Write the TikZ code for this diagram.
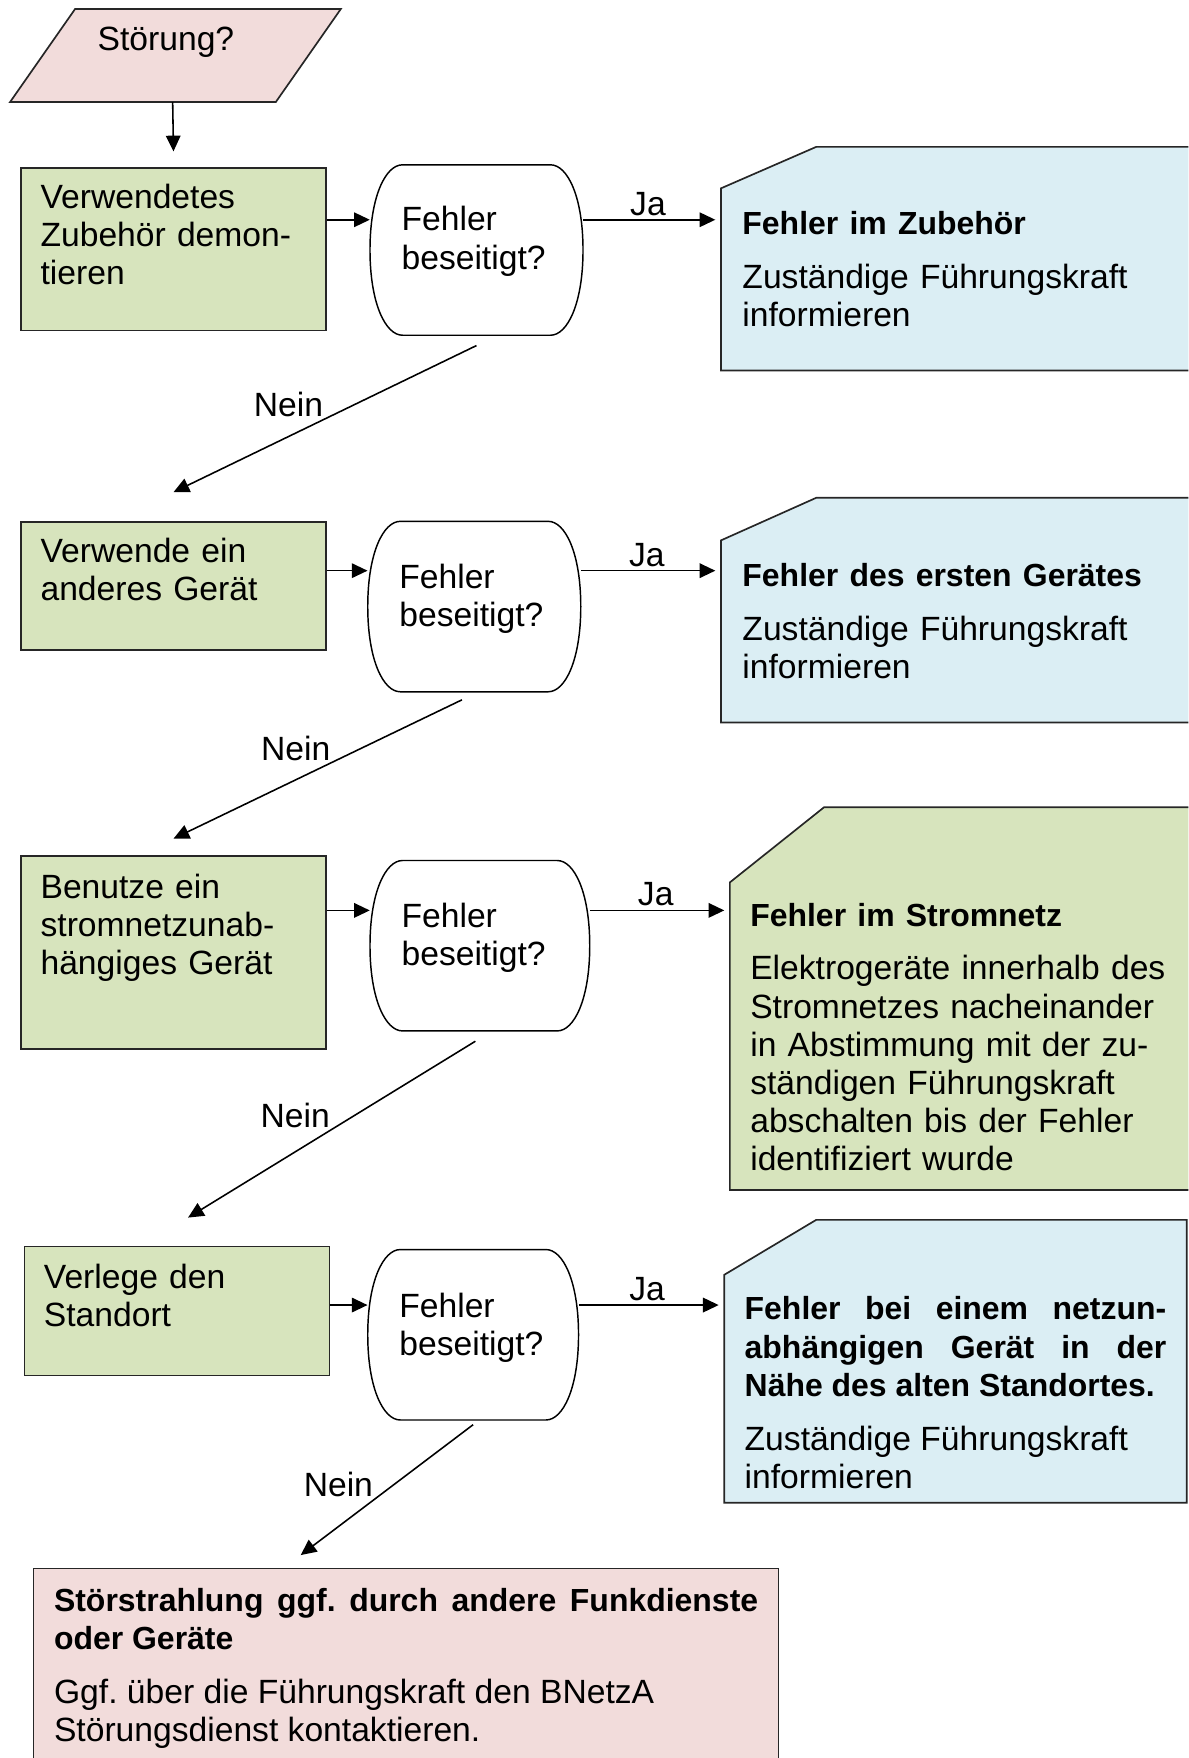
\documentclass[tikz,border=0pt]{standalone}
\usepackage{fontspec}
\setmainfont{Liberation Sans}
\usetikzlibrary{arrows.meta}
\frenchspacing

\definecolor{gruen}{HTML}{D7E4BD}
\definecolor{blau}{HTML}{DBEEF4}
\definecolor{rosa}{HTML}{F2DCDB}
\definecolor{rahmen}{HTML}{262626}

\tikzset{
  linie/.style={draw=rahmen, line width=1.5pt},
  feld/.style={linie, inner sep=0pt, anchor=north west},
  leer/.style={inner sep=0pt, anchor=north west},
  rand/.style={draw=black, line width=1.3pt, fill=white},
  pfeil/.style={line width=1.4pt, -{Triangle[length=14pt,width=13pt]}},
  schrift/.style={font=\fontsize{30}{34}\selectfont},
  txt/.style={schrift, anchor=base west, inner sep=0pt, text width=420pt, align=left},
  ja/.style={schrift, pos=.47, above, inner sep=3pt},
  nein/.style={schrift, anchor=south east, inner sep=1pt},
}
\newcommand{\kopf}{\fontsize{28.5}{34.5}\selectfont\bfseries}

% decision: name, centre x, centre y, width
\newcommand{\frage}[4]{%
  \draw[rand] ({#2-#4/2+29},{#3-76}) -- ({#2+#4/2-29},{#3-76})
    .. controls ({#2+#4/2-14},{#3-76}) and ({#2+#4/2},{#3-48}) .. ({#2+#4/2},{#3})
    .. controls ({#2+#4/2},{#3+48}) and ({#2+#4/2-14},{#3+76}) .. ({#2+#4/2-29},{#3+76})
    -- ({#2-#4/2+29},{#3+76})
    .. controls ({#2-#4/2+14},{#3+76}) and ({#2-#4/2},{#3+48}) .. ({#2-#4/2},{#3})
    .. controls ({#2-#4/2},{#3-48}) and ({#2-#4/2+14},{#3-76}) .. cycle;
  \node[inner sep=0pt, minimum width=#4pt, minimum height=152pt] (#1) at (#2,#3) {};
}

\begin{document}
\begin{tikzpicture}[x=1pt, y=-1pt]
  \useasboundingbox (0,0) rectangle (1060,1568);
  \clip (0,0) rectangle (1060,1568);

  % Start
  \draw[linie, fill=rosa] (67,8) -- (304,8) -- (246,91) -- (9,91) -- cycle;
  \node[schrift, anchor=base, inner sep=0pt] (stoer) at (148,45) {Störung?};
  \coordinate (st) at (154,91);

  % Steps
  \node[feld, fill=gruen, minimum width=272pt, minimum height=145pt] (a1) at (18,149) {};
  \node[feld, fill=gruen, minimum width=272pt, minimum height=114pt] (b1) at (18,465) {};
  \node[feld, fill=gruen, minimum width=272pt, minimum height=172pt] (c1) at (18,763) {};
  \node[feld, fill=gruen, minimum width=272pt, minimum height=115pt] (g1) at (21,1111) {};
  \node[txt] (a1t) at (36,186) {Verwendetes\\Zubehör demon-\\tieren};
  \node[txt] (b1t) at (36,502) {Verwende ein\\anderes Gerät};
  \node[txt] (c1t) at (36,801) {Benutze ein\\stromnetzunab-\\hängiges Gerät};
  \node[txt] (g1t) at (39,1149) {Verlege den\\Standort};

  % Decisions
  \frage{d1}{425}{223}{190}
  \frage{d2}{423}{541}{190}
  \frage{d3}{428}{843.5}{196}
  \frage{d4}{422}{1190.5}{188}
  \node[txt] (d1t) at (358,206) {Fehler\\beseitigt?};
  \node[txt] (d2t) at (356,525) {Fehler\\beseitigt?};
  \node[txt] (d3t) at (358,827) {Fehler\\beseitigt?};
  \node[txt] (d4t) at (356,1175) {Fehler\\beseitigt?};
  \coordinate (d1h) at (425,196);
  \coordinate (d2h) at (423,509);
  \coordinate (d3h) at (428,812);
  \coordinate (d4h) at (422,1164);

  % Results
  \node[leer, minimum width=430pt, minimum height=199pt] (f1) at (643,131) {};
  \node[leer, minimum width=430pt, minimum height=200pt] (f2) at (643,444) {};
  \node[leer, minimum width=422pt, minimum height=341pt] (f3) at (651,720) {};
  \node[leer, minimum width=412pt, minimum height=252pt] (f4) at (646,1088) {};
  \node[leer, minimum width=664pt, minimum height=200pt] (e1) at (30,1399) {};
  \draw[linie, fill=blau] ([yshift=-37pt]f1.north west) -- ([xshift=85pt]f1.north west)
    -- (f1.north east) -- (f1.south east) -- (f1.south west) -- cycle;
  \draw[linie, fill=blau] ([yshift=-38pt]f2.north west) -- ([xshift=85pt]f2.north west)
    -- (f2.north east) -- (f2.south east) -- (f2.south west) -- cycle;
  \draw[linie, fill=gruen] ([yshift=-67pt]f3.north west) -- ([xshift=84pt]f3.north west)
    -- (f3.north east) -- (f3.south east) -- (f3.south west) -- cycle;
  \draw[linie, fill=blau] ([yshift=-49pt]f4.north west) -- ([xshift=82pt]f4.north west)
    -- (f4.north east) -- (f4.south east) -- (f4.south west) -- cycle;
  \draw[linie, fill=rosa] (e1.south west) rectangle (e1.north east);

  \node[txt] (f1t) at (662,209) {{\kopf Fehler im Zubehör}\\[14pt]
    Zuständige Führungskraft\\informieren};
  \node[txt] (f2t) at (662,523) {{\kopf Fehler des ersten Gerätes}\\[14pt]
    Zuständige Führungskraft\\informieren};
  \node[txt] (f3t) at (669,826) {{\kopf Fehler im Stromnetz}\\[14pt]
    Elektrogeräte innerhalb des\\Stromnetzes nacheinander\\in Abstimmung mit der zu-\\
    ständigen Führungskraft\\abschalten bis der Fehler\\identifiziert wurde};
  \node[txt, text width=376pt, align=justify] (f4t) at (664,1177) {\kopf
    Fehler bei einem netzun-\linebreak abhängigen Gerät in der\linebreak
    Nähe des alten Standortes.\par\vspace{14pt}
    \fontsize{30}{34}\selectfont\mdseries Zuständige Führungskraft\newline informieren\par};
  \node[txt, text width=628pt, align=justify] (e1t) at (48,1437) {\kopf
    Störstrahlung ggf. durch andere Funkdienste\linebreak oder Geräte\par\vspace{14pt}
    \fontsize{30}{34}\selectfont\mdseries Ggf. über die Führungskraft den BNetzA\newline
    Störungsdienst kontaktieren.\par};

  % Connectors
  \draw[pfeil] (st) -- ([yshift=14pt]a1.north);
  \draw[pfeil] (a1.east |- d1h) -- (d1.west |- d1h);
  \draw[pfeil] (b1.east |- d2h) -- (d2.west |- d2h);
  \draw[pfeil] (c1.east |- d3h) -- (d3.west |- d3h);
  \draw[pfeil] (g1.east |- d4h) -- (d4.west |- d4h);
  \draw[pfeil, shorten >=5pt] (d1.east |- d1h) -- node[ja] {Ja} (f1.west |- d1h);
  \draw[pfeil, shorten >=5pt] (d2.east |- d2h) -- node[ja] {Ja} (f2.west |- d2h);
  \draw[pfeil, shorten >=5pt] (d3.east |- d3h) -- node[ja] {Ja} (f3.west |- d3h);
  \draw[pfeil, shorten >=5pt] (d4.east |- d4h) -- node[ja] {Ja} (f4.west |- d4h);
  \draw[pfeil] ([yshift=-9pt]d1.south) -- node[nein, pos=.5] {Nein} ([yshift=26pt]b1.north);
  \draw[pfeil] ([xshift=-11pt,yshift=-7pt]d2.south) -- node[nein, pos=.45] {Nein}
    ([yshift=15pt]c1.north);
  \draw[pfeil] ([xshift=-4pt,yshift=-9pt]d3.south) -- node[nein, pos=.5] {Nein}
    ([xshift=10pt,yshift=25pt]g1.north);
  \draw[pfeil] ([yshift=-4pt]d4.south) -- node[nein, pos=.57] {Nein}
    ([xshift=-94pt,yshift=12pt]e1.north);
\end{tikzpicture}
\end{document}
